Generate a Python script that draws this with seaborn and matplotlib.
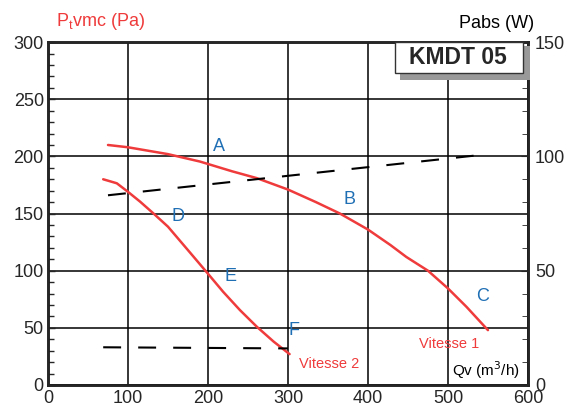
import numpy as np
import pandas as pd
import matplotlib.pyplot as plt
import seaborn as sns
from matplotlib.ticker import MultipleLocator
from matplotlib.patches import Rectangle

# Vitesse 1 / Vitesse 2 pressure curves (Pa) vs Qv (m3/h)
v1_qv = [75, 100, 150, 190, 230, 261, 300, 335, 365, 400, 428, 448, 475, 500, 523, 550]
v1_pa = [210, 208, 202, 195.5, 187, 181, 171, 160, 150, 136, 122.5, 112, 100, 84.5, 68.5, 48]
v2_qv = [69, 86, 100, 115, 132, 150, 178, 198, 219, 240, 261, 282, 302]
v2_pa = [180, 176.5, 169, 160.5, 150, 138.5, 115.5, 99, 81.5, 65.5, 51, 38, 27]

# power absorbed (W), right axis
pabs1_qv = [75, 532]
pabs1_w = [83, 100.3]
pabs2_qv = [69, 300]
pabs2_w = [16.5, 16]

pt_labels = ["A", "B", "C", "D", "E", "F"]
pt_x = [214, 377, 543, 163, 228, 307]
pt_y = [208.5, 162.5, 77, 147, 95, 47.5]

sns.set_style("white")
plt.rcParams['font.family'] = ['Liberation Sans', 'DejaVu Sans']

red = "#ef3b3b"
fig = plt.figure(figsize=(5.68, 4.09), dpi=100)
ax = fig.add_axes([0.0845, 0.0587, 0.845, 0.8383])

df1 = pd.DataFrame({"qv": v1_qv, "pa": v1_pa})
df2 = pd.DataFrame({"qv": v2_qv, "pa": v2_pa})
sns.lineplot(data=df1, x="qv", y="pa", ax=ax, color=red, lw=1.8, sort=False)
sns.lineplot(data=df2, x="qv", y="pa", ax=ax, color=red, lw=1.8, sort=False)

ax.set_xlim(0, 600)
ax.set_ylim(0, 300)
ax.xaxis.set_major_locator(MultipleLocator(100))
ax.yaxis.set_major_locator(MultipleLocator(50))
ax.xaxis.set_minor_locator(MultipleLocator(20))
ax.yaxis.set_minor_locator(MultipleLocator(10))
ax.grid(True, which="major", color="black", lw=1.1)
ax.tick_params(axis="x", which="major", direction="in", length=5, width=1, labelsize=13, pad=3.5)
ax.tick_params(axis="y", which="major", direction="in", length=5, width=1, labelsize=13, pad=3)
ax.tick_params(which="minor", direction="in", length=4, width=1)
ax.set_xlabel("")
ax.set_ylabel("")
for s in ax.spines.values():
    s.set_color("black")
    s.set_linewidth(1.8)

ax2 = ax.twinx()
d3 = pd.DataFrame({"qv": pabs1_qv, "w": pabs1_w})
d4 = pd.DataFrame({"qv": pabs2_qv, "w": pabs2_w})
sns.lineplot(data=d3, x="qv", y="w", ax=ax2, color="black", lw=1.5)
sns.lineplot(data=d4, x="qv", y="w", ax=ax2, color="black", lw=1.5)
for l in ax2.lines:
    l.set_dashes([8.6, 8.2])
ax2.set_ylim(0, 150)
ax2.yaxis.set_major_locator(MultipleLocator(50))
ax2.yaxis.set_minor_locator(MultipleLocator(10))
ax2.tick_params(which="major", direction="in", length=5, labelsize=13, pad=5)
ax2.tick_params(which="minor", direction="in", length=4)
ax2.set_ylabel("")
for s in ax2.spines.values():
    s.set_linewidth(1.8)

for lab, x, y in zip(pt_labels, pt_x, pt_y):
    ax.text(x, y, lab, color="#1f6fb5", fontsize=13, ha="center", va="center")

ax.text(501, 36, "Vitesse 1", color=red, fontsize=10.5, ha="center", va="center")
ax.text(352, 18.5, "Vitesse 2", color=red, fontsize=10.5, ha="center", va="center")
ax.text(590, 13, "Qv (m$^3$/h)", color="black", fontsize=11, ha="right", va="center")

fig.text(101 / 568, 1 - 21 / 409, "P$_\\mathregular{t}$vmc (Pa)", color=red,
         fontsize=13, ha="center", va="center")
fig.text(497 / 568, 1 - 24 / 409, "Pabs (W)", color="black", fontsize=13, ha="center", va="center")

# product box with shadow
fig.patches.append(Rectangle((400 / 568, 1 - 80 / 409), 130 / 568, 34 / 409,
                             transform=fig.transFigure, facecolor="#999999", edgecolor="none", zorder=5))
fig.patches.append(Rectangle((395 / 568, 1 - 73 / 409), 128 / 568, 31 / 409,
                             transform=fig.transFigure, facecolor="white", edgecolor="#333333", lw=1, zorder=6))
fig.text(458 / 568, 1 - 57 / 409, "KMDT 05", fontsize=16.5, fontweight="bold", ha="center", va="center", zorder=7)

fig.savefig("out.png", dpi=100)
